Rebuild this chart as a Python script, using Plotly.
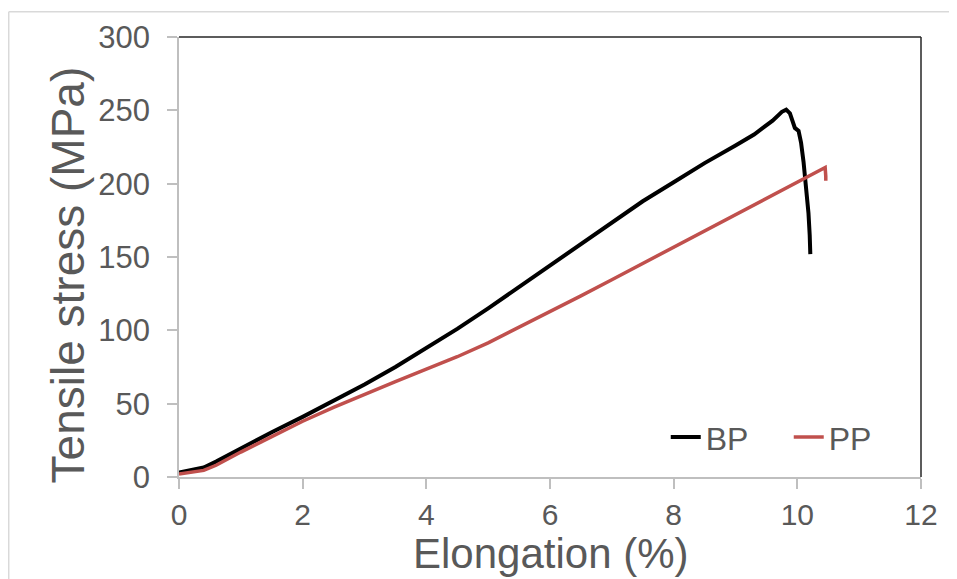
import plotly.graph_objects as go

# Data
bp_elong = [0, 0.2, 0.4, 0.6, 0.8, 1.0, 1.5, 2.0, 2.5, 3.0, 3.5, 4.0, 4.5, 5.0, 5.5, 6.0,
            6.5, 7.0, 7.5, 8.0, 8.5, 9.0, 9.3, 9.6, 9.75, 9.82, 9.88, 9.92, 9.96, 10.02,
            10.06, 10.1, 10.14, 10.18, 10.2, 10.21]
bp_stress = [3, 4.5, 6.5, 10.5, 15, 19.5, 30.5, 41, 52, 63, 75, 88, 101, 115, 129.5, 144,
             158.5, 173, 188, 201, 214, 226, 233.5, 243, 249, 250.5, 248, 243, 238, 236,
             228, 215, 200, 180, 165, 152]

pp_elong = [0, 0.2, 0.4, 0.6, 0.8, 1.0, 1.5, 2.0, 2.5, 3.0, 3.5, 4.0, 4.5, 5.0, 5.5, 6.0,
            6.5, 7.0, 7.5, 8.0, 8.5, 9.0, 9.5, 10.0, 10.3, 10.45, 10.46, 10.46]
pp_stress = [2, 3, 4.5, 8, 12.5, 17, 27.5, 38, 47.5, 56.5, 65, 73.5, 82, 91.5, 102, 112.5,
             123.5, 134.5, 145.5, 156.5, 167.5, 178.5, 189.5, 200.5, 207.5, 211, 205, 202]

x_ticks = [0, 2, 4, 6, 8, 10, 12]
y_ticks = [0, 50, 100, 150, 200, 250, 300]

FONT = "Liberation Sans, Arial, sans-serif"
TXT = "#595959"
AXIS_GRAY = "#BFBFBF"

fig = go.Figure()
fig.add_trace(go.Scatter(x=bp_elong, y=bp_stress, mode="lines", name="BP",
                         line=dict(color="#000000", width=4)))
fig.add_trace(go.Scatter(x=pp_elong, y=pp_stress, mode="lines", name="PP",
                         line=dict(color="#C0504D", width=3.5)))

fig.update_layout(
    width=949, height=571,
    margin=dict(l=171, r=36, t=26, b=102),
    paper_bgcolor="white", plot_bgcolor="white",
    font=dict(family=FONT, color=TXT, size=30),
    showlegend=True,
    legend=dict(orientation="h", x=0.656, y=0.0903, xanchor="left", yanchor="middle",
                font=dict(size=32, color=TXT, family=FONT), bgcolor="rgba(0,0,0,0)",
                entrywidth=78, entrywidthmode="pixels", itemwidth=30),
    xaxis=dict(range=[0, 12], tickvals=x_ticks, ticktext=[str(v) for v in x_ticks],
               showgrid=False, zeroline=False, showline=True, linecolor=AXIS_GRAY,
               linewidth=1.5, ticks="outside", ticklen=10, tickcolor=AXIS_GRAY,
               tickwidth=1.5, tickfont=dict(size=30, color=TXT, family=FONT),
               ticklabelstandoff=0),
    yaxis=dict(range=[0, 300], tickvals=y_ticks, ticktext=[str(v) for v in y_ticks],
               showgrid=False, zeroline=False, showline=True, linecolor=AXIS_GRAY,
               linewidth=1.5, ticks="outside", ticklen=10, tickcolor=AXIS_GRAY,
               tickwidth=1.5, tickfont=dict(size=31, color=TXT, family=FONT),
               ticklabelstandoff=11),
    annotations=[
        dict(text="Elongation (%)", xref="paper", yref="paper", x=0.5, y=-0.173,
             xanchor="center", yanchor="middle", showarrow=False,
             font=dict(size=42, color=TXT, family=FONT)),
        dict(text="Tensile stress (MPa)", xref="paper", yref="paper", x=-0.1496,
             y=0.4605, xanchor="center", yanchor="middle", textangle=-90,
             showarrow=False, font=dict(size=46, color=TXT, family=FONT)),
    ],
    shapes=[
        # top and right plot-area border (dark)
        dict(type="line", xref="paper", yref="paper", x0=0, x1=1, y0=1, y1=1,
             line=dict(color="#262626", width=1.5)),
        dict(type="line", xref="paper", yref="paper", x0=1, x1=1, y0=0, y1=1,
             line=dict(color="#262626", width=1.5)),
        # outer light frame (top and left)
        dict(type="line", xref="paper", yref="paper", x0=-0.2295, x1=1.06, y0=1.0572,
             y1=1.0572, line=dict(color="#D9D9D9", width=1.5)),
        dict(type="line", xref="paper", yref="paper", x0=-0.2295, x1=-0.2295, y0=-0.24,
             y1=1.0572, line=dict(color="#D9D9D9", width=1.5)),
    ],
)

fig.write_html("out.html")
